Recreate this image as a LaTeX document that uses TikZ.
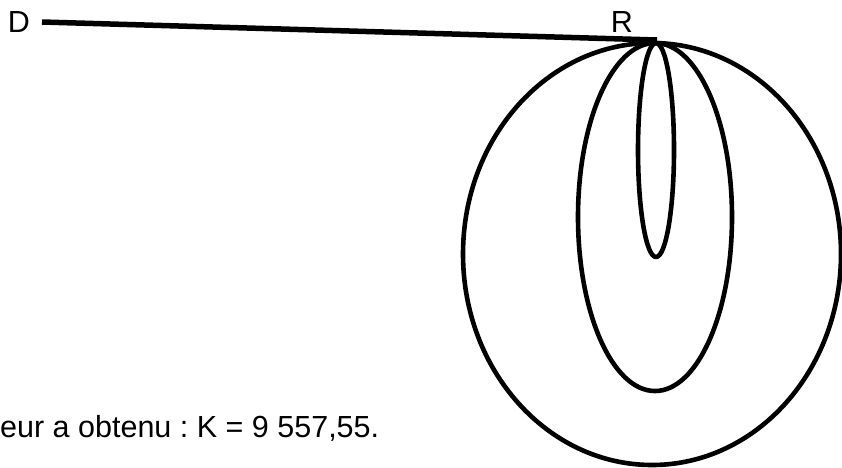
\documentclass[tikz,border=0pt]{standalone}
\usepackage{fontspec}
\setmainfont{Liberation Sans}
\frenchspacing
\begin{document}
\begin{tikzpicture}[x=1pt,y=-1pt,line join=round,font=\fontsize{30.5}{36}\selectfont,
	boucle/.style={line width=4.6pt},
	corde/.style={line width=5.5pt}]
	\useasboundingbox (0,0) rectangle (842,467);
	\coordinate (D) at (42,22);
	\coordinate (R) at (657,40);
	\draw[corde] (D)--(R);
	\draw[boucle] (656,150) ellipse [x radius=18pt, y radius=107pt];
	\draw[boucle] (655,217) ellipse [x radius=77pt, y radius=174pt];
	\draw[boucle] (652,254) ellipse [x radius=189pt, y radius=211pt];
	\node (d) at (19,22) {D};
	\node (r) at (622,22) {R};
	\node[anchor=base west, inner sep=0pt] (texte) at (0,437) {eur a obtenu : K = 9 557,55.};
\end{tikzpicture}
\end{document}
